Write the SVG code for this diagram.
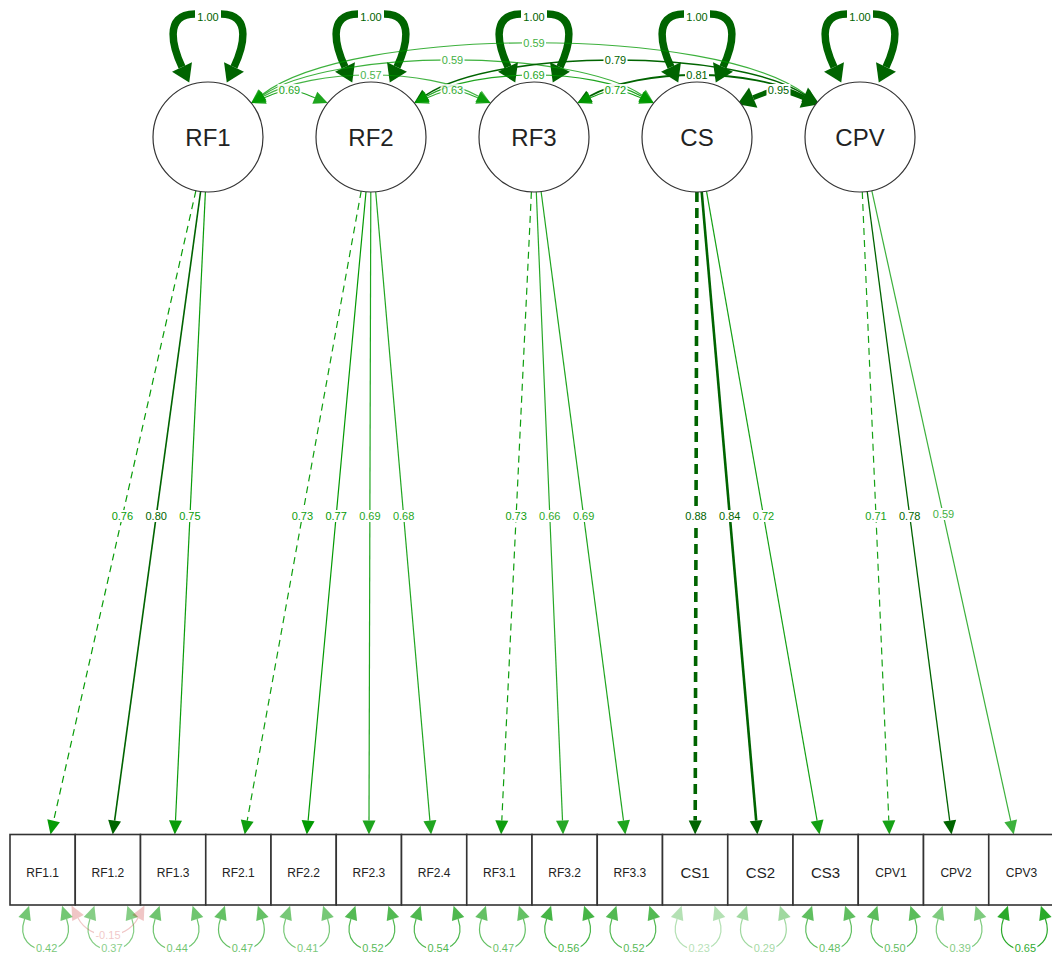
<svg xmlns="http://www.w3.org/2000/svg" width="1052" height="956" viewBox="0 0 1052 956">
<defs>
<style>
.e path{fill:none}
.l path{stroke:#009900;stroke-width:1.2}
.d path{stroke:#006400}
.n path{stroke:#C00000;stroke-width:1.2}
.l text{fill:#009900}
.d text{fill:#006400}
.n text{fill:#C00000}
.e text{font-family:"Liberation Sans",Arial,sans-serif;font-size:11px;text-anchor:middle}
.e rect{fill:#fff}
.dash{stroke-dasharray:7 5}
.loop path{stroke-width:7.5}
.lat circle{fill:#fff;stroke:#333;stroke-width:1.2}
.lat text{font-family:"Liberation Sans",Arial,sans-serif;font-size:24px;text-anchor:middle;fill:#222}
.man rect{fill:#fff;stroke:#333;stroke-width:1.6}
.man text{font-family:"Liberation Sans",Arial,sans-serif;font-size:12px;text-anchor:middle;fill:#222}
.man text.big{font-size:15px}
</style>
<marker id="ml" markerUnits="userSpaceOnUse" orient="auto-start-reverse" refX="0" refY="0" markerWidth="20" markerHeight="20" overflow="visible"><path d="M0,-6.5 L14,0 L0,6.5 Z" fill="#009900"/></marker>
<marker id="md" markerUnits="userSpaceOnUse" orient="auto-start-reverse" refX="0" refY="0" markerWidth="20" markerHeight="20" overflow="visible"><path d="M0,-6.5 L14,0 L0,6.5 Z" fill="#006400"/></marker>
<marker id="mdb" markerUnits="userSpaceOnUse" orient="auto-start-reverse" refX="0" refY="0" markerWidth="20" markerHeight="20" overflow="visible"><path d="M0,-11 L17,0 L0,11 Z" fill="#006400"/></marker>
<marker id="mn" markerUnits="userSpaceOnUse" orient="auto-start-reverse" refX="0" refY="0" markerWidth="20" markerHeight="20" overflow="visible"><path d="M0,-6.5 L14,0 L0,6.5 Z" fill="#C00000"/></marker>
</defs>
<rect width="1052" height="956" fill="#fff"/>

<g id="edges">
  <!-- latent variances -->
  <g class="e d loop"><path d="M195,14 C162,14 174,50 182,67" marker-end="url(#mdb)"/><path d="M221,14 C254,14 242,50 234,67" marker-end="url(#mdb)"/><text x="208" y="20.9">1.00</text></g>
  <g class="e d loop"><path d="M358,14 C325,14 337,50 345,67" marker-end="url(#mdb)"/><path d="M384,14 C417,14 405,50 397,67" marker-end="url(#mdb)"/><text x="371" y="20.9">1.00</text></g>
  <g class="e d loop"><path d="M521,14 C488,14 500,50 508,67" marker-end="url(#mdb)"/><path d="M547,14 C580,14 568,50 560,67" marker-end="url(#mdb)"/><text x="534" y="20.9">1.00</text></g>
  <g class="e d loop"><path d="M684,14 C651,14 663,50 671,67" marker-end="url(#mdb)"/><path d="M710,14 C743,14 731,50 723,67" marker-end="url(#mdb)"/><text x="697" y="20.9">1.00</text></g>
  <g class="e d loop"><path d="M847,14 C814,14 826,50 834,67" marker-end="url(#mdb)"/><path d="M873,14 C906,14 894,50 886,67" marker-end="url(#mdb)"/><text x="860" y="20.9">1.00</text></g>

  <!-- latent covariances -->
  <g class="e l" opacity=".76"><path d="M262.3,94.5 C352.3,25.5 715.7,25.5 805.7,94.5" marker-start="url(#ml)" marker-end="url(#ml)"/><rect x="522" y="37" width="24" height="12"/><text x="534" y="46.9">0.59</text></g>
  <g class="e l" opacity=".76"><path d="M262.8,95.2 C332.8,48.2 572.2,48.2 642.2,95.2" marker-start="url(#ml)" marker-end="url(#ml)"/><rect x="440.5" y="54" width="24" height="12"/><text x="452.5" y="63.9">0.59</text></g>
  <g class="e d"><path d="M425.8,95.2 C495.8,48.2 735.2,48.2 805.2,95.2" stroke-width="1.4" marker-start="url(#md)" marker-end="url(#md)"/><rect x="603.5" y="54" width="24" height="12"/><text x="615.5" y="63.9">0.79</text></g>
  <g class="e l" opacity=".73"><path d="M263.5,96.3 C313.5,67.9 428.5,67.9 478.5,96.3" marker-start="url(#ml)" marker-end="url(#ml)"/><rect x="359" y="69" width="24" height="12"/><text x="371" y="78.9">0.57</text></g>
  <g class="e l" opacity=".88"><path d="M426.5,96.3 C476.5,67.9 591.5,67.9 641.5,96.3" marker-start="url(#ml)" marker-end="url(#ml)"/><rect x="522" y="69" width="24" height="12"/><text x="534" y="78.9">0.69</text></g>
  <g class="e d"><path d="M589.5,96.3 C639.5,67.9 754.5,67.9 804.5,96.3" stroke-width="1.8" marker-start="url(#md)" marker-end="url(#md)"/><rect x="685" y="69" width="24" height="12"/><text x="697" y="78.9">0.81</text></g>
  <g class="e l" opacity=".88"><path d="M264.2,97.7 C289.2,87.4 289.8,87.4 314.8,97.7" marker-start="url(#ml)" marker-end="url(#ml)"/><rect x="277.5" y="84" width="24" height="12"/><text x="289.5" y="93.9">0.69</text></g>
  <g class="e l" opacity=".81"><path d="M427.2,97.7 C452.2,87.4 452.8,87.4 477.8,97.7" marker-start="url(#ml)" marker-end="url(#ml)"/><rect x="440.5" y="84" width="24" height="12"/><text x="452.5" y="93.9">0.63</text></g>
  <g class="e l" opacity=".92"><path d="M590.2,97.7 C615.2,87.4 615.8,87.4 640.8,97.7" marker-start="url(#ml)" marker-end="url(#ml)"/><rect x="603.5" y="84" width="24" height="12"/><text x="615.5" y="93.9">0.72</text></g>
  <g class="e d"><path d="M753.2,97.7 C778.2,87.4 778.8,87.4 803.8,97.7" stroke-width="5" marker-start="url(#mdb)" marker-end="url(#mdb)"/><rect x="766.5" y="84" width="24" height="12"/><text x="778.5" y="93.9">0.95</text></g>

  <!-- factor loadings -->
  <g class="e l" opacity=".97"><path class="dash" d="M195.9,190.7 L53.6,820.8" marker-end="url(#ml)"/><rect x="110.4" y="510" width="24" height="12"/><text x="122.4" y="519.9">0.76</text></g>
  <g class="e d"><path d="M200.6,191.5 L114.6,820.6" stroke-width="1.6" marker-end="url(#md)"/><rect x="144.2" y="510" width="24" height="12"/><text x="156.2" y="519.9">0.80</text></g>
  <g class="e l" opacity=".96"><path d="M205.4,191.9 L175.5,820.5" marker-end="url(#ml)"/><rect x="177.9" y="510" width="24" height="12"/><text x="189.9" y="519.9">0.75</text></g>
  <g class="e l" opacity=".94"><path class="dash" d="M361.2,191.1 L247.2,820.7" marker-end="url(#ml)"/><rect x="290.4" y="510" width="24" height="12"/><text x="302.4" y="519.9">0.73</text></g>
  <g class="e l" opacity=".99"><path d="M366,191.8 L308.1,820.6" marker-end="url(#ml)"/><rect x="324.1" y="510" width="24" height="12"/><text x="336.1" y="519.9">0.77</text></g>
  <g class="e l" opacity=".88"><path d="M370.8,192 L369,820.5" marker-end="url(#ml)"/><rect x="357.9" y="510" width="24" height="12"/><text x="369.9" y="519.9">0.69</text></g>
  <g class="e l" opacity=".87"><path d="M375.7,191.8 L429.9,820.6" marker-end="url(#ml)"/><rect x="391.6" y="510" width="24" height="12"/><text x="403.6" y="519.9">0.68</text></g>
  <g class="e l" opacity=".94"><path class="dash" d="M531.4,191.9 L501.8,820.5" marker-end="url(#ml)"/><rect x="504.1" y="510" width="24" height="12"/><text x="516.1" y="519.9">0.73</text></g>
  <g class="e l" opacity=".85"><path d="M536.3,192 L562.5,820.5" marker-end="url(#ml)"/><rect x="537.8" y="510" width="24" height="12"/><text x="549.8" y="519.9">0.66</text></g>
  <g class="e l" opacity=".88"><path d="M541.1,191.5 L623.5,820.6" marker-end="url(#ml)"/><rect x="571.6" y="510" width="24" height="12"/><text x="583.6" y="519.9">0.69</text></g>
  <g class="e d"><path d="M696.9,192 L695.2,820.5" stroke-width="3.6" stroke-dasharray="10 6" marker-end="url(#md)"/><rect x="684" y="510" width="24" height="12"/><text x="696" y="519.9">0.88</text></g>
  <g class="e d"><path d="M701.7,191.8 L756.2,820.6" stroke-width="2.6" marker-end="url(#md)"/><rect x="717.8" y="510" width="24" height="12"/><text x="729.8" y="519.9">0.84</text></g>
  <g class="e l" opacity=".92"><path d="M706.5,191.2 L817.1,820.7" marker-end="url(#ml)"/><rect x="751.5" y="510" width="24" height="12"/><text x="763.5" y="519.9">0.72</text></g>
  <g class="e l" opacity=".91"><path class="dash" d="M862.3,192 L888.8,820.5" marker-end="url(#ml)"/><rect x="864" y="510" width="24" height="12"/><text x="876" y="519.9">0.71</text></g>
  <g class="e d"><path d="M867.2,191.5 L949.7,820.6" stroke-width="1.3" marker-end="url(#md)"/><rect x="897.7" y="510" width="24" height="12"/><text x="909.7" y="519.9">0.78</text></g>
  <g class="e l" opacity=".76"><path d="M871.8,190.7 L1010.7,820.8" marker-end="url(#ml)"/><rect x="931.5" y="508" width="24" height="12"/><text x="943.5" y="517.9">0.59</text></g>

  <!-- residual variances -->
  <g class="e l" opacity=".54"><path d="M24.6,919 C10.6,960 80.6,960 66.6,919" marker-start="url(#ml)" marker-end="url(#ml)"/><rect x="34.6" y="942" width="24" height="12"/><text x="46.6" y="951.9">0.42</text></g>
  <g class="e l" opacity=".47"><path d="M89.9,919 C75.9,960 145.9,960 131.9,919" marker-start="url(#ml)" marker-end="url(#ml)"/><rect x="99.9" y="942" width="24" height="12"/><text x="111.9" y="951.9">0.37</text></g>
  <g class="e l" opacity=".56"><path d="M155.1,919 C141.1,960 211.1,960 197.1,919" marker-start="url(#ml)" marker-end="url(#ml)"/><rect x="165.1" y="942" width="24" height="12"/><text x="177.1" y="951.9">0.44</text></g>
  <g class="e l" opacity=".60"><path d="M220.4,919 C206.4,960 276.4,960 262.4,919" marker-start="url(#ml)" marker-end="url(#ml)"/><rect x="230.4" y="942" width="24" height="12"/><text x="242.4" y="951.9">0.47</text></g>
  <g class="e l" opacity=".53"><path d="M285.6,919 C271.6,960 341.6,960 327.6,919" marker-start="url(#ml)" marker-end="url(#ml)"/><rect x="295.6" y="942" width="24" height="12"/><text x="307.6" y="951.9">0.41</text></g>
  <g class="e l" opacity=".67"><path d="M350.9,919 C336.9,960 406.9,960 392.9,919" marker-start="url(#ml)" marker-end="url(#ml)"/><rect x="360.9" y="942" width="24" height="12"/><text x="372.9" y="951.9">0.52</text></g>
  <g class="e l" opacity=".69"><path d="M416.1,919 C402.1,960 472.1,960 458.1,919" marker-start="url(#ml)" marker-end="url(#ml)"/><rect x="426.1" y="942" width="24" height="12"/><text x="438.1" y="951.9">0.54</text></g>
  <g class="e l" opacity=".60"><path d="M481.4,919 C467.4,960 537.4,960 523.4,919" marker-start="url(#ml)" marker-end="url(#ml)"/><rect x="491.4" y="942" width="24" height="12"/><text x="503.4" y="951.9">0.47</text></g>
  <g class="e l" opacity=".72"><path d="M546.6,919 C532.6,960 602.6,960 588.6,919" marker-start="url(#ml)" marker-end="url(#ml)"/><rect x="556.6" y="942" width="24" height="12"/><text x="568.6" y="951.9">0.56</text></g>
  <g class="e l" opacity=".67"><path d="M611.9,919 C597.9,960 667.9,960 653.9,919" marker-start="url(#ml)" marker-end="url(#ml)"/><rect x="621.9" y="942" width="24" height="12"/><text x="633.9" y="951.9">0.52</text></g>
  <g class="e l" opacity=".29"><path d="M677.1,919 C663.1,960 733.1,960 719.1,919" marker-start="url(#ml)" marker-end="url(#ml)"/><rect x="687.1" y="942" width="24" height="12"/><text x="699.1" y="951.9">0.23</text></g>
  <g class="e l" opacity=".37"><path d="M742.4,919 C728.4,960 798.4,960 784.4,919" marker-start="url(#ml)" marker-end="url(#ml)"/><rect x="752.4" y="942" width="24" height="12"/><text x="764.4" y="951.9">0.29</text></g>
  <g class="e l" opacity=".62"><path d="M807.6,919 C793.6,960 863.6,960 849.6,919" marker-start="url(#ml)" marker-end="url(#ml)"/><rect x="817.6" y="942" width="24" height="12"/><text x="829.6" y="951.9">0.48</text></g>
  <g class="e l" opacity=".64"><path d="M872.9,919 C858.9,960 928.9,960 914.9,919" marker-start="url(#ml)" marker-end="url(#ml)"/><rect x="882.9" y="942" width="24" height="12"/><text x="894.9" y="951.9">0.50</text></g>
  <g class="e l" opacity=".50"><path d="M938.1,919 C924.1,960 994.1,960 980.1,919" marker-start="url(#ml)" marker-end="url(#ml)"/><rect x="948.1" y="942" width="24" height="12"/><text x="960.1" y="951.9">0.39</text></g>
  <g class="e l" opacity=".83"><path d="M1003.4,919 C989.4,960 1059.4,960 1045.4,919" marker-start="url(#ml)" marker-end="url(#ml)"/><rect x="1013.4" y="942" width="24" height="12"/><text x="1025.4" y="951.9">0.65</text></g>

  <!-- residual covariance -->
  <g class="e n" opacity=".22"><path d="M78,918 C90,941 126,941 138,918" marker-start="url(#mn)" marker-end="url(#mn)"/><rect x="94" y="929" width="28" height="12"/><text x="108" y="938.9">-0.15</text></g>
</g>

<!-- latent factors -->
<g id="RF1" class="lat"><circle cx="208" cy="137" r="55"/><text x="208" y="145.6">RF1</text></g>
<g id="RF2" class="lat"><circle cx="371" cy="137" r="55"/><text x="371" y="145.6">RF2</text></g>
<g id="RF3" class="lat"><circle cx="534" cy="137" r="55"/><text x="534" y="145.6">RF3</text></g>
<g id="CS" class="lat"><circle cx="697" cy="137" r="55"/><text x="697" y="145.6">CS</text></g>
<g id="CPV" class="lat"><circle cx="860" cy="137" r="55"/><text x="860" y="145.6">CPV</text></g>

<!-- observed indicators -->
<g id="RF1_1" class="man"><rect x="10" y="834.5" width="65.25" height="70.5"/><text x="42.6" y="877">RF1.1</text></g>
<g id="RF1_2" class="man"><rect x="75.25" y="834.5" width="65.25" height="70.5"/><text x="107.9" y="877">RF1.2</text></g>
<g id="RF1_3" class="man"><rect x="140.5" y="834.5" width="65.25" height="70.5"/><text x="173.1" y="877">RF1.3</text></g>
<g id="RF2_1" class="man"><rect x="205.75" y="834.5" width="65.25" height="70.5"/><text x="238.4" y="877">RF2.1</text></g>
<g id="RF2_2" class="man"><rect x="271" y="834.5" width="65.25" height="70.5"/><text x="303.6" y="877">RF2.2</text></g>
<g id="RF2_3" class="man"><rect x="336.25" y="834.5" width="65.25" height="70.5"/><text x="368.9" y="877">RF2.3</text></g>
<g id="RF2_4" class="man"><rect x="401.5" y="834.5" width="65.25" height="70.5"/><text x="434.1" y="877">RF2.4</text></g>
<g id="RF3_1" class="man"><rect x="466.75" y="834.5" width="65.25" height="70.5"/><text x="499.4" y="877">RF3.1</text></g>
<g id="RF3_2" class="man"><rect x="532" y="834.5" width="65.25" height="70.5"/><text x="564.6" y="877">RF3.2</text></g>
<g id="RF3_3" class="man"><rect x="597.25" y="834.5" width="65.25" height="70.5"/><text x="629.9" y="877">RF3.3</text></g>
<g id="CS1" class="man"><rect x="662.5" y="834.5" width="65.25" height="70.5"/><text class="big" x="695.1" y="878">CS1</text></g>
<g id="CS2" class="man"><rect x="727.75" y="834.5" width="65.25" height="70.5"/><text class="big" x="760.4" y="878">CS2</text></g>
<g id="CS3" class="man"><rect x="793" y="834.5" width="65.25" height="70.5"/><text class="big" x="825.6" y="878">CS3</text></g>
<g id="CPV1" class="man"><rect x="858.25" y="834.5" width="65.25" height="70.5"/><text x="890.9" y="877">CPV1</text></g>
<g id="CPV2" class="man"><rect x="923.5" y="834.5" width="65.25" height="70.5"/><text x="956.1" y="877">CPV2</text></g>
<g id="CPV3" class="man"><rect x="988.75" y="834.5" width="65.25" height="70.5"/><text x="1021.4" y="877">CPV3</text></g>
</svg>
